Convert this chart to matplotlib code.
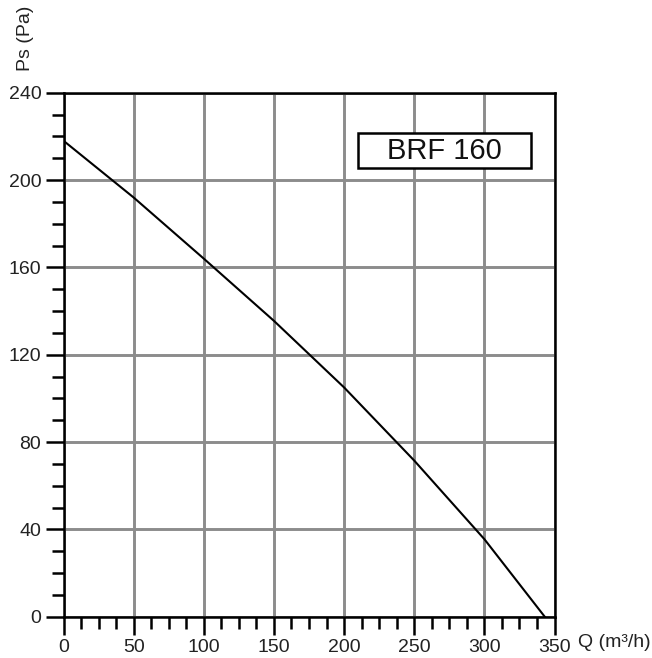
"""Fan performance curve BRF 160: static pressure vs air flow."""

import matplotlib
matplotlib.use("Agg")
import matplotlib.pyplot as plt
from matplotlib.patches import Rectangle
from matplotlib.ticker import MultipleLocator

plt.rcParams["font.family"] = ["Liberation Sans", "DejaVu Sans"]

# ---------------------------------------------------------------------------
# Data
# ---------------------------------------------------------------------------
flow = [0, 50, 100, 150, 200, 250, 300, 343]
pressure = [218, 192, 164, 135.5, 105, 71.5, 35.5, 0]

x_ticks = [0, 50, 100, 150, 200, 250, 300, 350]
y_ticks = [0, 40, 80, 120, 160, 200, 240]
model_name = "BRF 160"

# ---------------------------------------------------------------------------
# Plot
# ---------------------------------------------------------------------------
fig = plt.figure(figsize=(6.52, 6.58), dpi=100, facecolor="white")
ax = fig.add_axes([0.0974, 0.0628, 0.7531, 0.7963])

ax.set_xlim(0, 350)
ax.set_ylim(0, 240)
ax.set_xticks(x_ticks)
ax.set_yticks(y_ticks)
ax.xaxis.set_minor_locator(MultipleLocator(12.5))
ax.yaxis.set_minor_locator(MultipleLocator(10))

ax.grid(True, which="major", color="#8c8c8c", linewidth=2.1, zorder=0)
ax.set_axisbelow(True)

ax.plot(flow, pressure, color="black", linewidth=1.5, zorder=3)

for spine in ax.spines.values():
    spine.set_color("black")
    spine.set_linewidth(1.8)

ax.tick_params(axis="both", which="major", direction="out", length=13,
               width=1.8, labelsize=14, pad=3, colors="black")
ax.tick_params(axis="both", which="minor", direction="out", length=8.5,
               width=1.8)
for lbl in ax.get_xticklabels() + ax.get_yticklabels():
    lbl.set_color("#222222")

# Model name box
ax.add_patch(Rectangle((0.599, 0.856), 0.354, 0.067, transform=ax.transAxes,
                       facecolor="white", edgecolor="black", linewidth=1.8,
                       zorder=4))
ax.text(0.776, 0.8895, model_name, transform=ax.transAxes, ha="center",
        va="center", fontsize=21, color="#111111", zorder=5)

# Axis titles
fig.text(0.8865, 0.0235, "Q (m³/h)", ha="left", va="center", fontsize=14,
         color="#222222")
fig.text(0.039, 0.942, "Ps (Pa)", ha="center", va="center", rotation=90,
         fontsize=14, color="#222222")

fig.savefig("out.png", dpi=100, facecolor="white")
